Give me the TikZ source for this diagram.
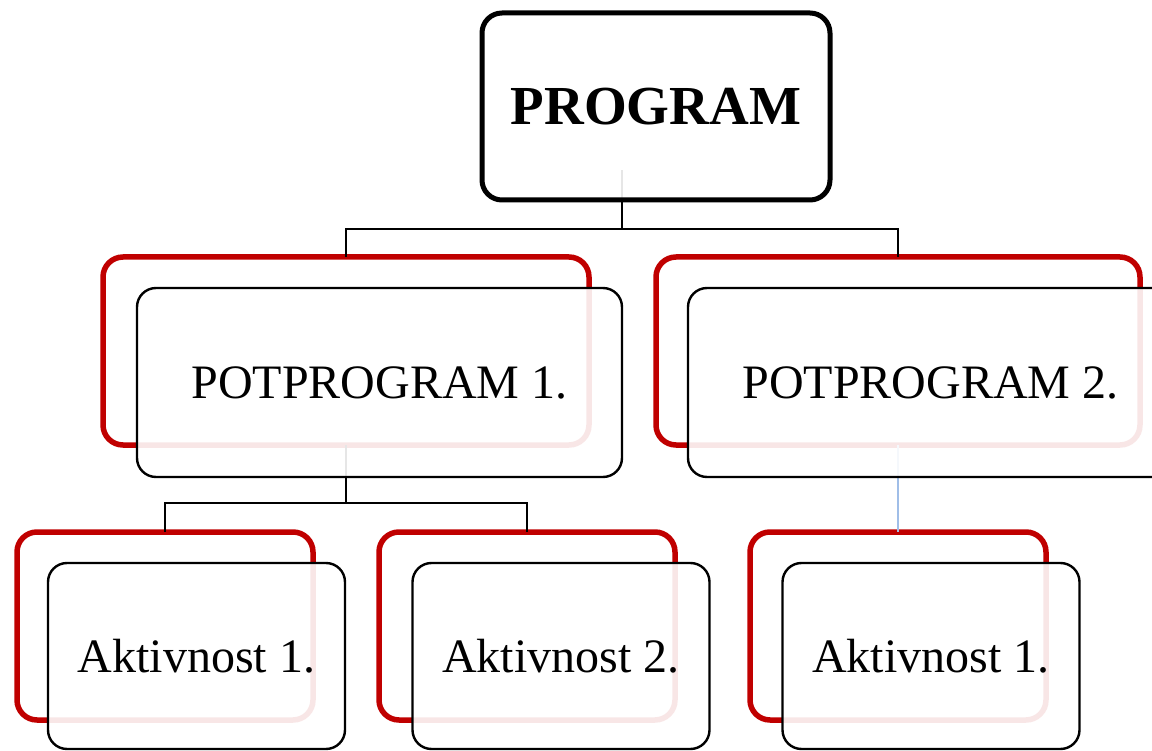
\documentclass[tikz,border=0pt]{standalone}
\usepackage{fontspec}
\setmainfont{Liberation Serif}
\definecolor{boxred}{RGB}{192,0,0}
\definecolor{linkblue}{RGB}{160,190,232}
\tikzset{
  redbox/.style={draw=boxred, line width=5.5pt, rounded corners=20pt, outer sep=0pt, inner sep=0pt},
  whitebox/.style={draw=black, line width=2.4pt, rounded corners=19pt, fill=white, fill opacity=0.9, text opacity=1, outer sep=0pt, inner sep=0pt, font=\fontsize{48}{52}\selectfont},
  topbox/.style={draw=black, line width=5pt, rounded corners=20pt, fill=white, fill opacity=0.9, text opacity=1, outer sep=0pt, inner sep=0pt, font=\fontsize{55}{60}\selectfont\bfseries},
  link/.style={draw=black, line width=2.2pt},
  bluelink/.style={draw=linkblue, line width=2.8pt}
}
\begin{document}
\begin{tikzpicture}[x=1pt, y=-1pt]
\useasboundingbox (0,0) rectangle (1152,751);
\clip (0,0) rectangle (1152,751);
% back (red) boxes
\node[redbox, minimum width=486pt, minimum height=188pt] (rp1) at (346,351) {};
\node[redbox, minimum width=484pt, minimum height=188pt] (rp2) at (898,351) {};
\node[redbox, minimum width=296pt, minimum height=188pt] (ra1) at (165,626) {};
\node[redbox, minimum width=296pt, minimum height=188pt] (ra2) at (527,626) {};
\node[redbox, minimum width=296pt, minimum height=188pt] (ra3) at (898,626) {};
% connectors
\coordinate (c0) at (622,170);
\draw[link] (c0) -- (c0 |- 0,229) -| (rp1.north);
\draw[link] (c0 |- 0,229) -| (rp2.north);
\draw[link] (rp1.south) -- (rp1.south |- 0,503) -| (ra1.north);
\draw[link] (rp1.south |- 0,503) -| (ra2.north);
\draw[bluelink] (rp2.south) -- (ra3.north);
% front boxes
\node[topbox, minimum width=348pt, minimum height=187pt] (prog) at (656,106.5) {PROGRAM};
\node[whitebox, minimum width=485pt, minimum height=189pt] (wp1) at (379.5,382.5) {POTPROGRAM 1.};
\node[whitebox, minimum width=485pt, minimum height=189pt] (wp2) at (930.5,382.5) {POTPROGRAM 2.};
\node[whitebox, minimum width=297pt, minimum height=186pt] (wa1) at (196.5,656) {Aktivnost 1.};
\node[whitebox, minimum width=297pt, minimum height=186pt] (wa2) at (561,656) {Aktivnost 2.};
\node[whitebox, minimum width=297pt, minimum height=186pt] (wa3) at (931,656) {Aktivnost 1.};
\end{tikzpicture}
\end{document}
